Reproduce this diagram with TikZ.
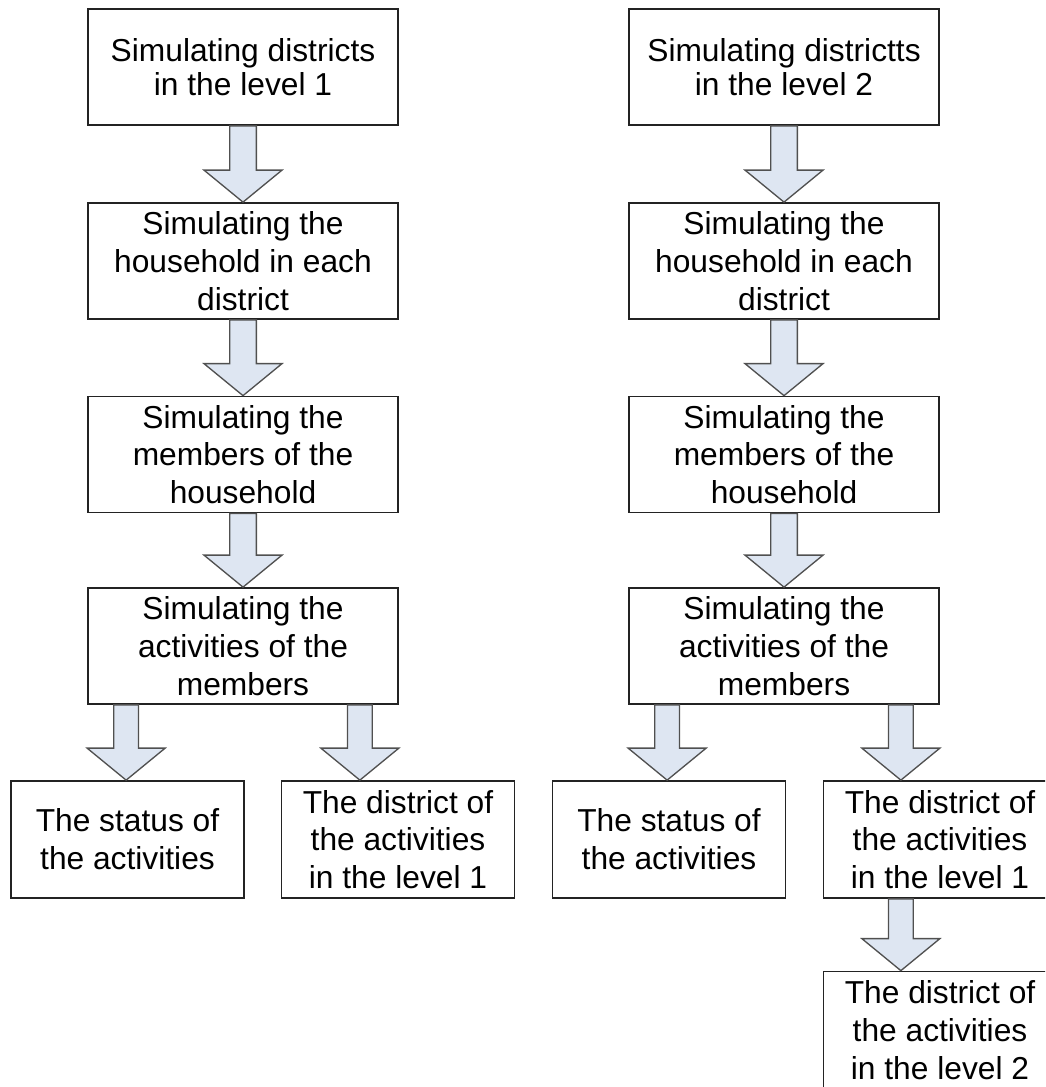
\documentclass[tikz,border=0pt]{standalone}
\usepackage{fontspec}
\setmainfont{Liberation Sans}
\usetikzlibrary{calc}
\definecolor{arrfill}{RGB}{222,230,242}
\definecolor{arrline}{RGB}{80,80,80}
\definecolor{boxline}{RGB}{35,35,35}
\newcommand\blockarrow[3][10pt]{%
  \draw[blockarr] let \p1=(#2), \p2=(#3) in
   (\x1-#1,\y1) -- (\x1-#1,\y2+24pt) -- (\x1-29.25pt,\y2+24pt) -- (\x1,\y2)
   -- (\x1+29.25pt,\y2+24pt) -- (\x1+#1,\y2+24pt) -- (\x1+#1,\y1) -- cycle;}
\begin{document}
\begin{tikzpicture}[x=0.75pt,y=-0.75pt,
  mainbox/.style={draw=boxline, line width=1.3pt, fill=white, minimum width=232.5pt,
    minimum height=87pt, inner sep=0pt, align=center,
    font=\fontsize{23.8pt}{28.3pt}\selectfont},
  smallbox/.style={mainbox, minimum width=174.75pt, minimum height=87.75pt},
  blockarr/.style={draw=arrline, line width=1pt, fill=arrfill, line join=miter}]
\useasboundingbox (0,0) rectangle (1045,1087);
\fill[white] (0,0) rectangle (1045,1087);
\clip (0,0) rectangle (1045,1087);
% left column
\node[mainbox, font=\fontsize{23.8pt}{25pt}\selectfont] (L1) at (243,67) {Simulating districts\\in the level 1};
\node[mainbox] (L2) at (243,261) {Simulating the\\household in each\\district};
\node[mainbox] (L3) at (243,454.5) {Simulating the\\members of the\\household};
\node[mainbox] (L4) at (243,646) {Simulating the\\activities of the\\members};
\node[smallbox] (L5) at (127.5,839.5) {The status of\\the activities};
\node[smallbox] (L6) at (398,839.5) {The district of\\the activities\\in the level 1};
% right column
\node[mainbox, font=\fontsize{23.8pt}{26pt}\selectfont] (R1) at (784,67) {Simulating districtts\\in the level 2};
\node[mainbox] (R2) at (784,261) {Simulating the\\household in each\\district};
\node[mainbox] (R3) at (784,454.5) {Simulating the\\members of the\\household};
\node[mainbox] (R4) at (784,646) {Simulating the\\activities of the\\members};
\node[smallbox] (R5) at (669,839.5) {The status of\\the activities};
\node[smallbox] (R6) at (940,839.5) {The district of\\the activities\\in the level 1};
\node[smallbox] (R7) at (940,1030) {The district of\\the activities\\in the level 2};
% arrows
\coordinate (la) at ($(L4.south west)+(39,0)$);
\coordinate (lb) at ($(L4.south east)+(-39,0)$);
\coordinate (ra) at ($(R4.south west)+(39,0)$);
\coordinate (rb) at ($(R4.south east)+(-39,0)$);
\blockarrow{L1.south}{L2.north}
\blockarrow{L2.south}{L3.north}
\blockarrow{L3.south}{L4.north}
\blockarrow[9.25pt]{la}{la |- L5.north}
\blockarrow[9.25pt]{lb}{lb |- L6.north}
\blockarrow{R1.south}{R2.north}
\blockarrow{R2.south}{R3.north}
\blockarrow{R3.south}{R4.north}
\blockarrow[9.25pt]{ra}{ra |- R5.north}
\blockarrow[9.25pt]{rb}{rb |- R6.north}
\blockarrow[9.25pt]{rb |- R6.south}{rb |- R7.north}
\end{tikzpicture}
\end{document}
